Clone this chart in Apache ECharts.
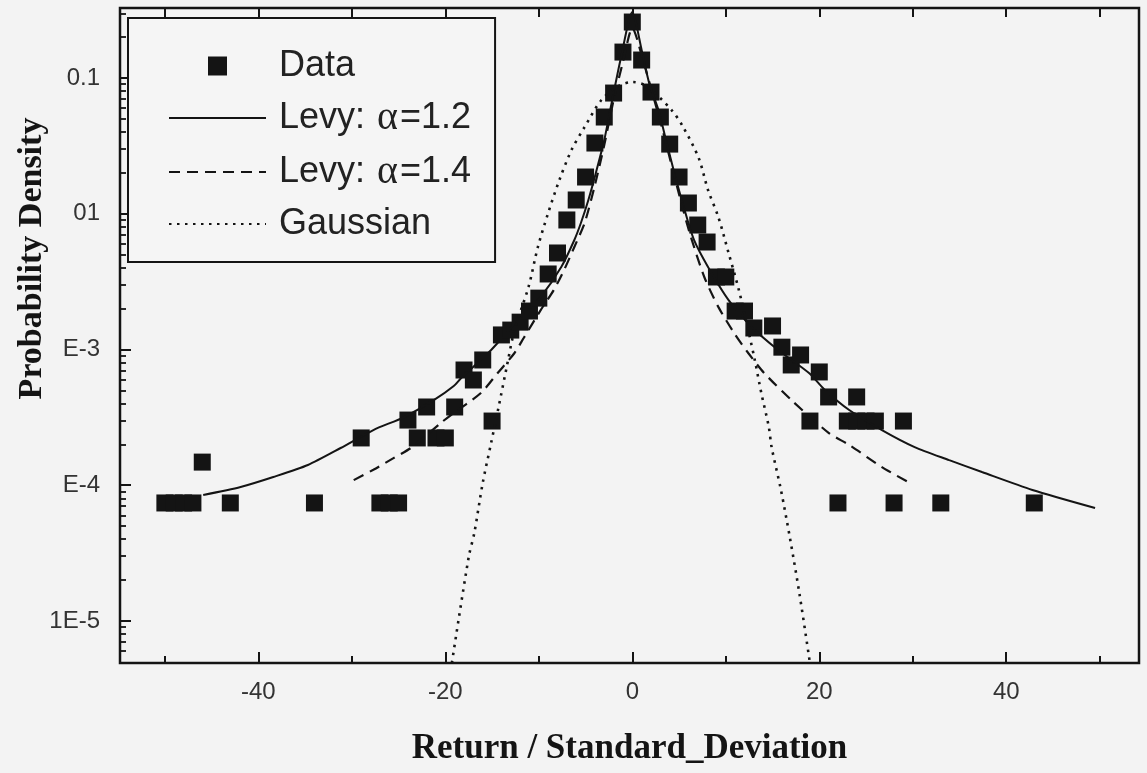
<!DOCTYPE html>
<html>
<head>
<meta charset="utf-8">
<script src="https://cdn.jsdelivr.net/npm/echarts@6/dist/echarts.min.js"></script>
<style>
html,body{margin:0;padding:0;background:#f3f3f3;}
#chart{width:1147px;height:773px;}
</style>
</head>
<body>
<div id="chart"></div>
<script>
// ---- Data ----
const dataX = [-50,-49,-48,-47,-46,-43,-34,-29,-27,-26,-25,-24,-23,-22,-21,-20,-19,-18,-17,-16,-15,-14,-13,-12,-11,-10,-9,-8,-7,-6,-5,-4,-3,-2,-1,0,1,2,3,4,5,6,7,8,9,10,11,12,13,15,16,17,18,19,20,21,22,23,24,24,25,26,28,29,33,43];
const dataY = [7.40e-5,7.40e-5,7.40e-5,7.40e-5,1.48e-4,7.40e-5,7.40e-5,2.23e-4,7.40e-5,7.40e-5,7.40e-5,3.02e-4,2.23e-4,3.77e-4,2.23e-4,2.23e-4,3.77e-4,7.06e-4,5.96e-4,8.37e-4,2.97e-4,1.28e-3,1.39e-3,1.59e-3,1.92e-3,2.39e-3,3.60e-3,5.14e-3,9.0e-3,0.01263,0.01865,0.0332,0.0516,0.0775,0.1553,0.2585,0.1357,0.0788,0.0516,0.0326,0.01865,0.0120,0.00826,0.00619,0.00342,0.00342,0.00192,0.00192,0.00144,0.00149,0.00104,7.69e-4,9.11e-4,2.97e-4,6.83e-4,4.47e-4,7.40e-5,2.97e-4,4.47e-4,2.97e-4,2.97e-4,2.97e-4,7.40e-5,2.97e-4,7.40e-5,7.40e-5];

const levy12X = [-45.9,-41.9,-38.4,-34.7,-31.2,-27.7,-24.4,-21.2,-19.1,-18.3,-15.1,-11.9,-9.8,-7.6,-6.2,-5.5,-4.7,-3.9,-3.0,-2.3,-1.2,0,1.0,1.8,2.8,3.6,4.5,5.5,6.6,8.1,10.3,12.8,15.6,18.9,20.6,23.2,26.7,30.2,33.9,37.4,42.8,49.5];
const levy12Y = [8.48e-5,9.71e-5,1.15e-4,1.41e-4,1.88e-4,2.55e-4,3.18e-4,4.25e-4,5.38e-4,6.17e-4,9.92e-4,1.74e-3,2.44e-3,4.05e-3,6.41e-3,8.55e-3,0.01263,0.01997,0.0349,0.0611,0.1428,0.306,0.1608,0.0919,0.0581,0.0349,0.01997,0.01121,0.00641,0.00405,0.00231,0.00146,9.92e-4,6.71e-4,5.03e-4,3.58e-4,2.55e-4,1.91e-4,1.53e-4,1.25e-4,9.23e-5,6.80e-5];

const levy14X = [-29.8,-27.7,-25.5,-23.7,-20.5,-19.4,-16.2,-14.4,-12.6,-11.6,-9.8,-8.4,-7.3,-6.2,-5.1,-4.0,-3.0,-2.0,-1.0,0,1.2,2.2,3.1,4.2,5.3,6.2,7.7,9.2,10.9,12.4,14.1,17.0,21.0,23.2,26.7,29.5];
const levy14Y = [1.09e-4,1.30e-4,1.59e-4,1.88e-4,2.87e-4,3.29e-4,4.78e-4,6.71e-4,9.42e-4,1.22e-3,1.95e-3,2.74e-3,3.85e-3,5.69e-3,8.55e-3,0.01628,0.0321,0.0689,0.1312,0.2335,0.1312,0.0750,0.0451,0.02286,0.01160,0.00698,0.00342,0.00206,0.00132,9.42e-4,6.71e-4,4.25e-4,2.43e-4,1.98e-4,1.36e-4,1.057e-4];

const gaussX = [-19.3,-17.5,-16.9,-16.0,-15.1,-14.3,-13.5,-12.6,-11.1,-10.1,-9.0,-7.8,-6.5,-5.1,-3.3,-1.5,0,1.5,4.2,5.5,7.1,8.1,9.2,10.3,11.4,12.4,13.1,13.8,14.6,14.9,15.9,16.9,17.9,19.0];
const gaussY = [4.90e-6,2.96e-5,4.45e-5,1.04e-4,2.05e-4,3.77e-4,7.06e-4,1.39e-3,2.89e-3,5.69e-3,0.01013,0.01772,0.0295,0.0436,0.0689,0.0873,0.0934,0.0873,0.0581,0.0428,0.02575,0.01496,0.00946,0.00514,0.00274,0.00139,8.37e-4,4.78e-4,2.69e-4,1.91e-4,9.23e-5,3.95e-5,1.554e-5,4.90e-6];

const xLabelValues = [-40,-20,0,20,40];
const xMinorTicks = [-50,-30,-10,10,30,50];
const xTopTicks = [-50,-40,-30,-20,-10,0,10,20,30,40,50];
const yLabelValues = [1e-5,1e-4,1e-3,1e-2,1e-1];
const yLabelTexts = ['1E-5','E-4','E-3','01','0.1'];
const yMinorTicks = [6e-6,7e-6,8e-6,9e-6,
  2e-5,3e-5,4e-5,5e-5,6e-5,7e-5,8e-5,9e-5,
  2e-4,3e-4,4e-4,5e-4,6e-4,7e-4,8e-4,9e-4,
  2e-3,3e-3,4e-3,5e-3,6e-3,7e-3,8e-3,9e-3,
  2e-2,3e-2,4e-2,5e-2,6e-2,7e-2,8e-2,9e-2,
  0.2,0.3];
const seriesNames = ['Data','Levy: α=1.2','Levy: α=1.4','Gaussian'];

// ---- Chart ----
const zip = (xs, ys) => xs.map((x, i) => [x, ys[i]]);
const X_MIN = -54.8, X_MAX = 54.2, Y_MIN = 4.9e-6, Y_MAX = 0.328;
const ink = '#141414';
const hiddenLine = {show: false, onZero: false};

const chart = echarts.init(document.getElementById('chart'), null, {renderer:'canvas'});
chart.setOption({
  animation: false,
  backgroundColor: '#f3f3f3',
  grid: {left: 120, right: 8, top: 8, bottom: 110, outerBoundsMode: 'none', containLabel: false,
         show: true, borderColor: ink, borderWidth: 2.5, backgroundColor: 'transparent'},
  legend: {
    orient: 'vertical', left: 128, top: 18,
    padding: [30, 24, 20, 40],
    itemWidth: 97, itemHeight: 19, itemGap: 14,
    borderColor: ink, borderWidth: 2, backgroundColor: '#f5f5f5',
    data: [
      {name: seriesNames[0], icon: 'path://M0,0L10,0L10,10L0,10Z', itemStyle: {color: ink, opacity: 1}},
      {name: seriesNames[1], itemStyle: {opacity: 0}},
      {name: seriesNames[2], itemStyle: {opacity: 0}},
      {name: seriesNames[3], itemStyle: {opacity: 0}}
    ],
    formatter: n => n.replace('α', '{g|α}'),
    textStyle: {fontFamily: 'Liberation Sans', fontSize: 36, color: '#222', lineHeight: 36, padding: [0,0,0,8],
      rich: {g: {fontFamily: 'Liberation Serif', fontSize: 40, color: '#222', padding: [0,2,0,2]}}}
  },
  xAxis: [
    {type: 'value', min: X_MIN, max: X_MAX, position: 'bottom',
     axisLine: hiddenLine, splitLine: {show: false},
     axisTick: {inside: true, length: 11, customValues: xLabelValues, lineStyle: {color: ink, width: 2}},
     axisLabel: {customValues: xLabelValues, fontFamily: 'Liberation Sans', fontSize: 24, color: '#333', margin: 17},
     name: 'Return / Standard_Deviation', nameLocation: 'middle', nameGap: 68, nameMoveOverlap: false,
     nameTextStyle: {fontFamily: 'Liberation Serif', fontWeight: 'bold', fontSize: 35, color: ink}},
    {type: 'value', min: X_MIN, max: X_MAX, position: 'bottom',
     axisLine: hiddenLine, splitLine: {show: false}, axisLabel: {show: false},
     axisTick: {inside: true, length: 7, customValues: xMinorTicks, lineStyle: {color: ink, width: 2}}},
    {type: 'value', min: X_MIN, max: X_MAX, position: 'top',
     axisLine: hiddenLine, splitLine: {show: false}, axisLabel: {show: false},
     axisTick: {inside: true, length: 9, customValues: xTopTicks, lineStyle: {color: ink, width: 2}}}
  ],
  yAxis: [
    {type: 'log', min: Y_MIN, max: Y_MAX, position: 'left',
     axisLine: hiddenLine, splitLine: {show: false},
     axisTick: {inside: true, length: 11, customValues: yLabelValues, lineStyle: {color: ink, width: 2}},
     axisLabel: {customValues: yLabelValues, fontFamily: 'Liberation Sans', fontSize: 24, color: '#333', margin: 20,
       formatter: v => { const i = yLabelValues.findIndex(t => Math.abs(Math.log10(t) - Math.log10(v)) < 0.01); return i >= 0 ? yLabelTexts[i] : ''; }},
     name: 'Probability Density', nameLocation: 'middle', nameGap: 71, nameRotate: 90, nameMoveOverlap: false,
     nameTextStyle: {fontFamily: 'Liberation Serif', fontWeight: 'bold', fontSize: 34, color: ink, padding: [0, 0, 0, 154]}},
    {type: 'log', min: Y_MIN, max: Y_MAX, position: 'left',
     axisLine: hiddenLine, splitLine: {show: false}, axisLabel: {show: false},
     axisTick: {inside: true, length: 6, customValues: yMinorTicks, lineStyle: {color: ink, width: 1.8}}}
  ],
  series: [
    {name: seriesNames[0], type: 'scatter', xAxisIndex: 0, yAxisIndex: 0, symbol: 'rect', symbolSize: 17,
     itemStyle: {color: ink, opacity: 1}, data: zip(dataX, dataY), z: 3},
    {name: seriesNames[1], type: 'line', xAxisIndex: 0, yAxisIndex: 0, symbol: 'none', showSymbol: false, smooth: 0.25,
     lineStyle: {color: ink, width: 2}, itemStyle: {color: ink}, data: zip(levy12X, levy12Y), z: 4},
    {name: seriesNames[2], type: 'line', xAxisIndex: 0, yAxisIndex: 0, symbol: 'none', showSymbol: false, smooth: 0.25,
     lineStyle: {color: ink, width: 2.2, type: [11, 7]}, itemStyle: {color: ink}, data: zip(levy14X, levy14Y), z: 4},
    {name: seriesNames[3], type: 'line', xAxisIndex: 0, yAxisIndex: 0, symbol: 'none', showSymbol: false, smooth: 0.3,
     lineStyle: {color: ink, width: 2.6, type: [2.5, 5.5]}, itemStyle: {color: ink}, data: zip(gaussX, gaussY), z: 4}
  ]
});
</script>
</body>
</html>
